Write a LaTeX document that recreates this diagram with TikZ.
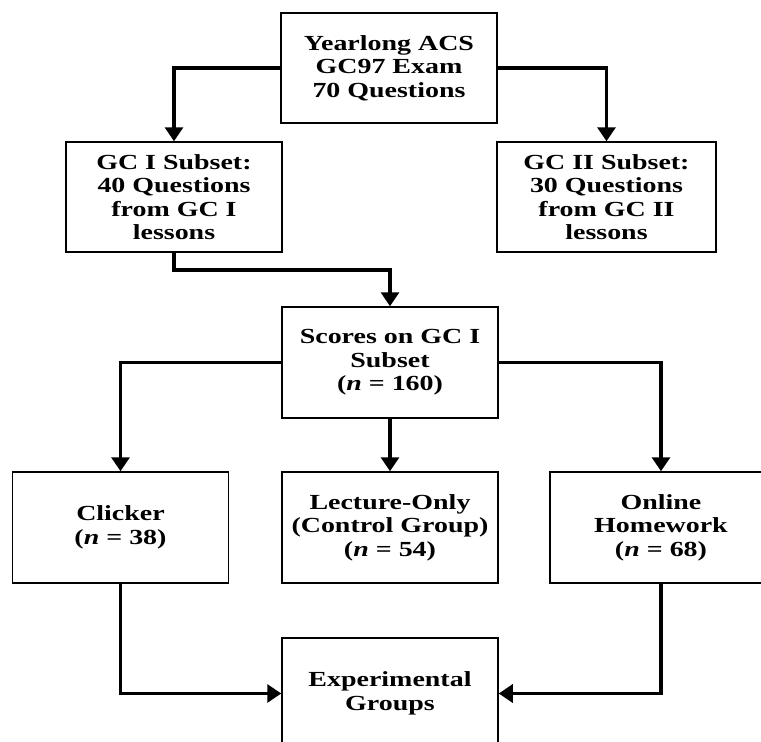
\documentclass[tikz,border=0pt]{standalone}
\usepackage{fontspec}
\newfontfamily\figfont[FakeStretch=1.3]{Liberation Serif}
\usetikzlibrary{arrows.meta}
\begin{document}
\begin{tikzpicture}[x=1pt,y=-1pt,
  box/.style={draw=black, line width=1.5pt, fill=white, align=center, inner sep=0pt,
    minimum width=216pt, minimum height=110pt,
    font=\figfont\bfseries\fontsize{21.5}{23.5}\selectfont},
  conn/.style={draw=black, line width=3.2pt, -{Triangle[length=14pt,width=18pt]}}]
\useasboundingbox (0,0) rectangle (761,742);
\node[box] (top) at (389,68) {Yearlong ACS\\GC97 Exam\\70 Questions};
\node[box] (gc1) at (174,197) {GC I Subset:\\40 Questions\\from GC I\\lessons};
\node[box, minimum width=219pt] (gc2) at (606.5,197) {GC II Subset:\\30 Questions\\from GC II\\lessons};
\node[box, minimum height=111pt] (scores) at (390,362.5) {Scores on GC I\\Subset\\(\textit{n} = 160)};
\node[box, minimum height=111pt] (clicker) at (120.5,527.5) {Clicker\\(\textit{n} = 38)};
\node[box, minimum height=111pt] (lecture) at (390,527.5) {Lecture-Only\\(Control Group)\\(\textit{n} = 54)};
\node[box, minimum width=222pt, minimum height=111pt] (online) at (661,527.5) {Online\\Homework\\(\textit{n} = 68)};
\node[box, minimum height=111pt] (exp) at (390,693.5) {Experimental\\Groups};
\coordinate (m1) at (174,270);
\draw[conn] (top.west) -| (gc1.north);
\draw[conn] (top.east) -| (gc2.north);
\draw[conn] (gc1.south) -- (m1) -| (scores.north);
\draw[conn] (scores.west) -| (clicker.north);
\draw[conn] (scores.south) -- (lecture.north);
\draw[conn] (scores.east) -| (online.north);
\draw[conn] (clicker.south) |- (exp.west);
\draw[conn] (online.south) |- (exp.east);
\end{tikzpicture}
\end{document}
